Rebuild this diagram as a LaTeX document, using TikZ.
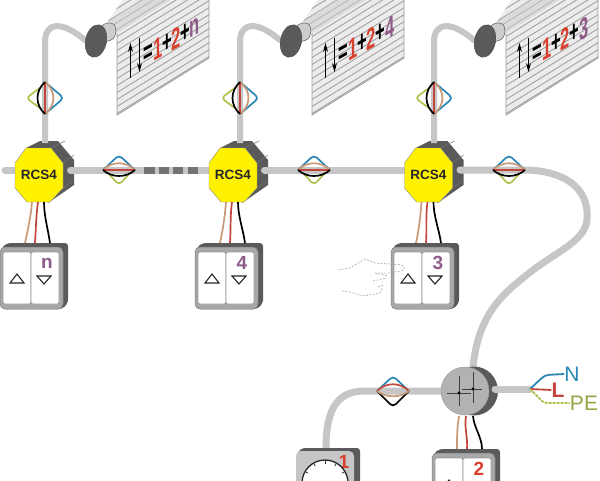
\documentclass[tikz,border=0pt]{standalone}
\usepackage{fontspec}
\usetikzlibrary{shapes.geometric,arrows.meta}
\setmainfont{Liberation Sans}
\definecolor{cablec}{HTML}{C6C6C6}
\definecolor{darkc}{HTML}{5A5A5A}
\definecolor{wblue}{HTML}{2A86B4}
\definecolor{wtan}{HTML}{C89A78}
\definecolor{wred}{HTML}{C2463C}
\definecolor{wgreen}{HTML}{B4C050}
\definecolor{numred}{HTML}{D8402E}
\definecolor{numpur}{HTML}{8E5A88}
\definecolor{slat}{HTML}{9C9C9C}
\tikzset{
  cable/.style={draw=cablec,line width=7pt},
  wire/.style={line width=1.7pt},
  hand/.style={draw=gray!80,line width=0.5pt,dash pattern=on 2pt off 1.5pt},
  tri/.style={draw=black!85,line width=1.1pt,line join=miter},
  num/.style={font=\bfseries\fontsize{19}{19}\selectfont,inner sep=0pt},
  bigsym/.style={font=\bfseries\fontsize{30}{30}\selectfont,inner sep=0pt,transform shape,yslant=0.55,xscale=0.55},
  rcslabel/.style={font=\bfseries\fontsize{13.5}{14}\selectfont,text=black!85,inner sep=0pt},
  mainslabel/.style={font=\fontsize{21}{21}\selectfont,inner sep=0pt},
}
\newcommand{\eyewires}{%
  \draw[wgreen,wire,rounded corners=4pt] (-11,3) -- (0,15) -- (11,3);
  \draw[wblue,wire,rounded corners=4pt] (-16,0) -- (0,-15) -- (16,0);
  \draw[wtan,wire] (-16,0) .. controls (-7,-9) and (7,-9) .. (16,0);
  \draw[wred,wire] (-16,0) -- (16,0);
  \draw[black,wire] (-16,0) .. controls (-7,8) and (7,8) .. (16,0);
}
\newcommand{\blindunit}[4]{%
  \begin{scope}[shift={(#2,0)}]
    \begin{scope}
      \clip (117,33) -- (117,115) -- (209,58) -- (209,-30) -- (143,-30) -- (107,23) -- cycle;
      \fill[gray!15] (117,33) -- (117,115) -- (209,58) -- (209,-30) -- (143,-30) -- (107,23) -- cycle;
      \foreach \k in {-8,...,12} {\draw[slat,line width=0.8pt] (100,{40+7*\k}) -- (215,{40+7*\k-71});}
      \fill[gray!40,opacity=0.5] (107,23) -- (117,33) -- (175,-3) -- (143,-3) -- cycle;
    \end{scope}
    \draw[slat,line width=0.8pt] (117,33) -- (117,115) -- (209,58) -- (209,-1);
    \coordinate (#1top) at (45,143);
    \coordinate (#1knob) at (86,41);
    \fill[gray!40,draw=darkc,line width=0.5pt,rounded corners=2pt] (100,27) -- (106,23) -- (113,23) .. controls (117,28) and (116,36) .. (112,40) -- (100,43) -- cycle;
    \path[cable,line width=6pt] (#1top) -- (45,42) .. controls (45,22) and (62,20) .. (#1knob);
    \node[ellipse,fill=darkc,draw=black!70,line width=0.4pt,minimum width=21pt,minimum height=33pt,inner sep=0pt,rotate=-12] (#1) at (96,41) {};
    \draw[black,line width=0.9pt,-{Stealth[length=9pt,width=5pt]}] (130.5,78) -- (130.5,43);
    \draw[black,line width=0.9pt,-{Stealth[length=9pt,width=5pt]}] (139.5,38) -- (139.5,72);
    \begin{scope}[shift={(148,54)}]\node[bigsym,text=black]{=};\end{scope}
    \begin{scope}[shift={(158,49)}]\node[bigsym,text=numred]{1};\end{scope}
    \begin{scope}[shift={(167.5,43)}]\node[bigsym,text=black]{+};\end{scope}
    \begin{scope}[shift={(176,38)}]\node[bigsym,text=numred]{2};\end{scope}
    \begin{scope}[shift={(185,33)}]\node[bigsym,text=black]{+};\end{scope}
    \begin{scope}[shift={(195,#4)}]\node[bigsym,text=numpur]{#3};\end{scope}
    \begin{scope}[shift={(45,98)},rotate=-90,yscale=1.25]\eyewires\end{scope}
  \end{scope}
}
\newcommand{\rcsback}[3]{%
  \begin{scope}[shift={(#2,#3)}]
    \fill[darkc] (-13,-27) -- (1,-34) -- (19,-34) -- (35,-15) -- (35,10) -- (9,28) -- cycle;
    \draw[black!55,line width=0.5pt] (12,-27) -- (26,-34) (24,-12) -- (35,-20) (24,13) -- (35,5);
    \coordinate (#1W) at (-24,-5);
    \coordinate (#1E) at (31.5,-5);
    \coordinate (#1a) at (-7,27);
    \coordinate (#1b) at (-1,27);
    \coordinate (#1c) at (5,27);
  \end{scope}
}
\newcommand{\rcsfront}[3]{%
  \begin{scope}[shift={(#2,#3)}]
    \fill[yellow,draw=black!45,line width=0.4pt] (-13,-27) -- (12,-27) -- (24,-12) -- (24,13) -- (11,27) -- (-12,27) -- (-24,13) -- (-24,-12) -- cycle;
    \node[rcslabel] (#1) at (0,0) {RCS4};
  \end{scope}
}
\newcommand{\switchunit}[5]{%
  \begin{scope}[shift={(#2,#3)}]
    \fill[darkc,rounded corners=3pt] (2,4) -- (8,0) -- (68,0) -- (68,60) -- (62,66) -- (2,66) -- cycle;
    \fill[cablec!85!black,draw=black!50,line width=0.5pt,rounded corners=5pt] (0,4) rectangle (63,66);
    \fill[white,draw=gray!80,line width=0.7pt,rounded corners=2pt] (3,9) rectangle (31,61);
    \fill[white,draw=gray!80,line width=0.7pt,rounded corners=2pt] (31,9) rectangle (59,61);
    \draw[tri] (10,40) -- (24,40) -- (17,31) -- cycle;
    \draw[tri] (37,33) -- (51,33) -- (44,41) -- cycle;
    \node[num,text=#5] (#1) at (47,20) {#4};
    \coordinate (#1a) at (25,0);
    \coordinate (#1b) at (35,0);
    \coordinate (#1c) at (50,0);
  \end{scope}
}
\newcommand{\threewires}[2]{%
  \draw[wtan,wire] (#1a) .. controls ++(-1,14) and ++(3,-14) .. (#2a);
  \draw[wred,wire] (#1b) .. controls ++(-2,14) and ++(1,-14) .. (#2b);
  \draw[black,wire] (#1c) .. controls ++(0,14) and ++(-2,-14) .. (#2c);
}
\begin{document}
\begin{tikzpicture}[x=1pt,y=-1pt]
\useasboundingbox (0,0) rectangle (600,480);
\fill[white] (0,0) rectangle (600,480);
\clip (0,0) rectangle (600,480);

\rcsback{ca}{39}{175}
\rcsback{cb}{233}{175}
\rcsback{cc}{428.5}{175}

\blindunit{bl1}{0}{n}{28}
\blindunit{bl2}{195}{4}{28}
\blindunit{bl3}{389}{3}{29}

\coordinate (stub) at (5,170);
\coordinate (eyeA) at (119,170);
\coordinate (eyeB) at (314,170);
\coordinate (eyeC) at (509,170);
\coordinate (jt) at (473,368);
\draw[cable,line cap=round] (stub) -- (caW);
\draw[cable,line cap=round] (caE) -- (eyeA) -- (cbW);
\foreach \a/\b in {144/155,159/169,173/183,188/198}
  \draw[draw=darkc!85,line width=7pt] (\a,170) -- (\b,170);
\draw[cable,line cap=round] (cbE) -- (ccW);
\draw[cable,line cap=round] (ccE) -- (eyeC) -- (527,170) .. controls (560,171) and (590,185) .. (587,220)
  .. controls (585,240) and (560,250) .. (533,270) .. controls (505,292) and (478,312) .. (jt);

\rcsfront{ca}{39}{175}
\rcsfront{cb}{233}{175}
\rcsfront{cc}{428.5}{175}
\begin{scope}[shift={(eyeA)}]\eyewires\end{scope}
\begin{scope}[shift={(eyeB)}]\eyewires\end{scope}
\begin{scope}[shift={(eyeC)}]\eyewires\end{scope}

\switchunit{sa}{0}{243}{n}{numpur}
\switchunit{sb}{195}{243}{4}{numpur}
\switchunit{sc}{391}{243}{3}{numpur}
\threewires{ca}{sa}
\threewires{cb}{sb}
\threewires{cc}{sc}

\draw[hand,rounded corners=1.5pt] (338,270) -- (350,268) -- (365,259) -- (375,263) -- (403,265) -- (405,270) -- (390,273) -- (375,273);
\draw[hand] (375,273) -- (388,276);
\draw[hand] (373,281) -- (386,278);
\draw[hand] (378,287) -- (384,285);
\draw[hand,rounded corners=1.5pt] (342,291) -- (350,292) -- (363,296) -- (381,293) -- (382,287);

\coordinate (jb) at (465,391);
\coordinate (jbW) at (442,391);
\coordinate (jbE) at (495,389);
\coordinate (eyeD) at (393,391);
\coordinate (clk) at (326,448);
\coordinate (mains) at (530,389);
\fill[darkc] (474,391) ellipse[x radius=24,y radius=24.5];
\draw[cable,line cap=round] (jbE) -- (mains);
\draw[cable,line cap=round] (jbW) -- (eyeD) -- (365,391) .. controls (340,391) and (326,405) .. (clk);
\node[circle,fill=gray!60,draw=gray!75,line width=0.5pt,minimum size=48pt,inner sep=0pt] (jbox) at (jb) {};
\draw[black!75,line width=0.5pt] (447,393) -- (471,393) (459,376) -- (459,406) (462,389) -- (482,389) (473,372) -- (473,403);
\fill[black] (459,393) circle[radius=1.7] (473,389) circle[radius=1.7];

\begin{scope}[shift={(eyeD)}]
  \draw[wblue,wire,rounded corners=4pt] (-16,0) -- (0,-15) -- (16,0);
  \draw[black,wire,rounded corners=4pt] (-16,0) -- (0,16) -- (16,0);
  \draw[wred,wire] (-16,0) .. controls (-7,-9) and (7,-9) .. (16,0);
  \draw[wtan,wire] (-16,0) .. controls (-7,7) and (7,7) .. (16,0);
\end{scope}

\begin{scope}[shift={(296,448)}]
  \fill[darkc,rounded corners=3pt] (2,4) -- (6,0) -- (64,0) -- (64,40) -- (2,40) -- cycle;
  \fill[cablec,rounded corners=5pt] (0,3) rectangle (58,40);
  \node[num,text=numred] (clklabel) at (48,14) {1};
\end{scope}
\node[circle,fill=white,draw=black!85,line width=1.3pt,minimum size=46pt,inner sep=0pt] (dial) at (325,483) {};
\foreach \a in {0,30,...,330}
  \draw[black!80,line width=0.8pt] (325,483) ++(\a:23) -- ++(\a+180:3.5);

\switchunit{sd}{432}{449}{2}{numred}
\coordinate (j1) at (459,416);
\coordinate (j2) at (466,416);
\coordinate (j3) at (473,416);
\draw[wtan,wire] (j1) .. controls ++(-2,12) and ++(0,-12) .. (sda);
\draw[wred,wire] (j2) .. controls ++(-2,12) and ++(1,-12) .. (sdb);
\draw[black,wire] (j3) .. controls ++(1,12) and ++(0,-12) .. (sdc);

\node[mainslabel,text=wblue] (lN) at (572,374) {N};
\node[mainslabel,font=\bfseries\fontsize{21}{21}\selectfont,text=wred] (lL) at (558,390) {L};
\node[mainslabel,text=wgreen!85!black] (lPE) at (584,403) {PE};
\draw[wblue,line width=1.8pt,rounded corners=4pt] (mains) -- (545,375) -- (lN.west);
\draw[wred,line width=1.8pt] (mains) -- (lL.west);
\draw[wgreen,line width=1.8pt,dash pattern=on 3pt off 1pt,rounded corners=3pt] (mains) -- (544,403) -- (lPE.west);
\end{tikzpicture}
\end{document}
